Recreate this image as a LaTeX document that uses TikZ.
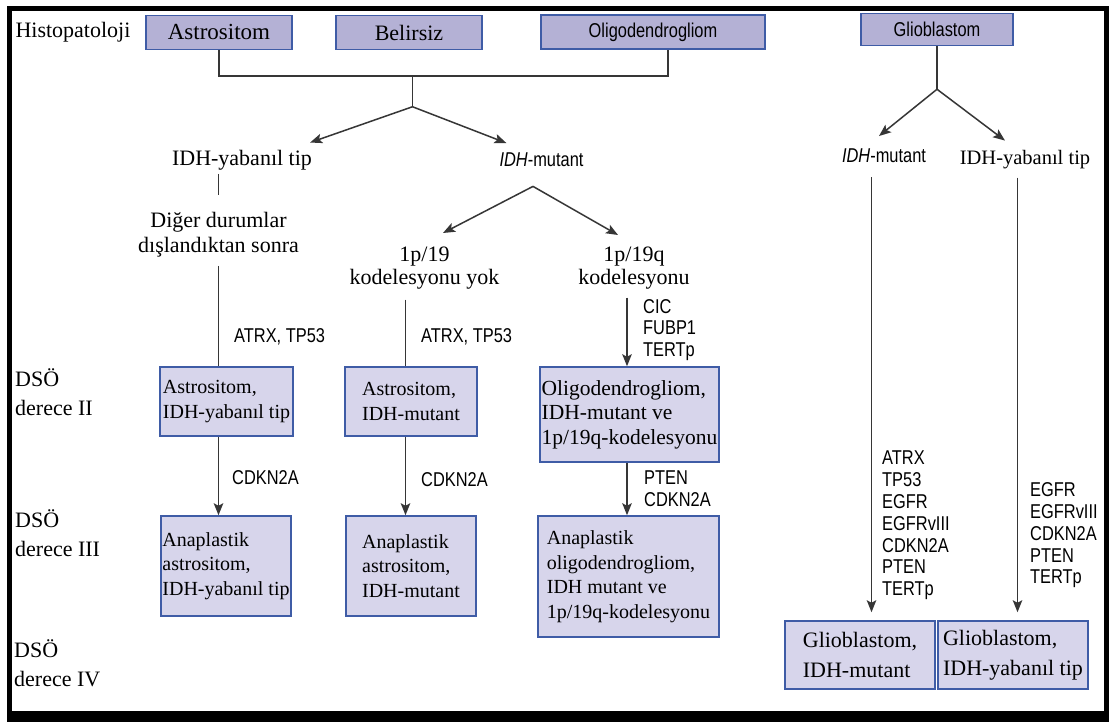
\documentclass[tikz,border=0pt]{standalone}
\usepackage{fontspec}
\setmainfont{Liberation Serif}
\newfontfamily\genefont[FakeStretch=0.82]{Liberation Sans}
\usetikzlibrary{arrows.meta,calc}
\definecolor{boxedge}{HTML}{3F5CA6}
\definecolor{headfill}{HTML}{B4B1D5}
\definecolor{gradefill}{HTML}{D7D5EB}
\definecolor{linkgray}{HTML}{363636}

\begin{document}
\begin{tikzpicture}[x=1pt,y=-1pt,
    word/.style={inner sep=0pt,font=\fontsize{22}{24}\selectfont},
    grade/.style={inner sep=0pt,align=left,font=\fontsize{22}{29}\selectfont},
    gene/.style={inner sep=0pt,align=left,font=\genefont\fontsize{20}{21.8}\selectfont},
    headbox/.style={draw=boxedge,fill=headfill,line width=1.5pt,inner sep=0pt,minimum height=34pt,font=\fontsize{22}{24}\selectfont},
    gradebox/.style={draw=boxedge,fill=gradefill,line width=1.5pt,inner sep=0pt,align=left,font=\fontsize{20}{24.5}\selectfont},
    link/.style={draw=linkgray,line width=1.5pt},
    arr/.style={link,-{Stealth[length=12pt,width=9.5pt,inset=2.5pt]}}]
    \useasboundingbox (0,0) rectangle (1109,722);
    \fill[white] (0,0) rectangle (1109,722);
    \fill[black] (7,6) rectangle (1109,722);
    \fill[white] (12,11) rectangle (1104,711);

    \node[word,anchor=base] (histo) at (73,38) {Histopatoloji};
    \node[headbox,minimum width=146pt,font=\fontsize{23}{25}\selectfont] (astro) at (219,32.5) {Astrositom};
    \node[headbox,minimum width=146pt] (belir) at (409,32.5) {Belirsiz};
    \node[headbox,minimum width=224pt,font=\genefont\fontsize{20}{22}\selectfont] (oligo) at (653,32) {Oligodendrogliom};
    \node[headbox,minimum width=152pt,minimum height=32pt,font=\genefont\fontsize{20}{22}\selectfont] (gliob) at (937,29.5) {Glioblastom};

    \node[word,anchor=base] (wildA) at (242,166) {IDH-yabanıl tip};
    \node[gene,anchor=base] (mutA) at (541.5,167) {\textit{IDH}-mutant};
    \node[gene,anchor=base] (mutG) at (884,163) {\textit{IDH}-mutant};
    \node[word,anchor=base,font=\fontsize{20.5}{24}\selectfont] (wildG) at (1025,165) {IDH-yabanıl tip};
    \node[word,align=center,anchor=north,font=\fontsize{22}{25}\selectfont] (otherA) at (218.5,212) {Diğer durumlar\\dışlandıktan sonra};
    \node[word,align=center,anchor=north,font=\fontsize{22}{23}\selectfont] (nocodel) at (424.5,247) {1p/19\\kodelesyonu yok};
    \node[word,align=center,anchor=north,font=\fontsize{22}{23}\selectfont] (codel) at (634,247) {1p/19q\\kodelesyonu};

    \node[grade,anchor=north west] (dsoII) at (15,368) {DSÖ\\derece II};
    \node[grade,anchor=north west] (dsoIII) at (15,509) {DSÖ\\derece III};
    \node[grade,anchor=north west] (dsoIV) at (14,639) {DSÖ\\derece IV};

    \node[gene,anchor=base west] (geneA1) at (234,342) {ATRX, TP53};
    \node[gene,anchor=base west] (geneB1) at (421,342) {ATRX, TP53};
    \node[gene,anchor=north west] (geneC1) at (643,299) {CIC\\FUBP1\\TERTp};
    \node[gene,anchor=base west] (geneA2) at (232,484) {CDKN2A};
    \node[gene,anchor=base west] (geneB2) at (421,486) {CDKN2A};
    \node[gene,anchor=north west] (geneC2) at (644,471) {PTEN\\CDKN2A};
    \node[gene,anchor=north west] (geneG1) at (882,451) {ATRX\\TP53\\EGFR\\EGFRvIII\\CDKN2A\\PTEN\\TERTp};
    \node[gene,anchor=north west] (geneG2) at (1030,482.5) {EGFR\\EGFRvIII\\CDKN2A\\PTEN\\TERTp};

    \node[gradebox,minimum width=133pt,minimum height=69pt] (astroWT) at (226.5,401.5) {Astrositom,\\IDH-yabanıl tip};
    \node[gradebox,minimum width=132pt,minimum height=69pt] (astroMut) at (411,401.5) {Astrositom,\\IDH-mutant};
    \node[gradebox,minimum width=179pt,minimum height=95pt,font=\fontsize{21.5}{24.5}\selectfont] (oligoCod) at (629.5,414.5) {Oligodendrogliom,\\IDH-mutant ve\\1p/19q-kodelesyonu};
    \node[gradebox,minimum width=130pt,minimum height=100pt] (anaAstroWT) at (226,566) {Anaplastik\\astrositom,\\IDH-yabanıl tip};
    \node[gradebox,minimum width=130pt,minimum height=100pt] (anaAstroMut) at (411,566) {Anaplastik\\astrositom,\\IDH-mutant};
    \node[gradebox,minimum width=181pt,minimum height=121pt] (anaOligo) at (628.5,576.5) {Anaplastik\\oligodendrogliom,\\IDH mutant ve\\1p/19q-kodelesyonu};
    \node[gradebox,minimum width=150pt,minimum height=68pt,font=\fontsize{22}{30}\selectfont] (gbmMut) at (860,655) {Glioblastom,\\IDH-mutant};
    \node[gradebox,minimum width=150pt,minimum height=68pt,font=\fontsize{22}{30}\selectfont] (gbmWT) at (1013,655) {Glioblastom,\\IDH-yabanıl tip};

    \coordinate (join) at ($(belir.south)+(3.5,26)$);
    \coordinate (forkA) at ($(join)+(0,30.5)$);
    \draw[link] (astro.south) |- (join) -| ($(oligo.south)+(15,0)$);
    \draw[link] (join) -- (forkA);
    \draw[arr] (forkA) -- ($(wildA.north east)+(-2,-8)$);
    \draw[arr] (forkA) -- ($(mutA.north west)+(7,-10)$);

    \coordinate (forkB) at ($(mutA.south)+(-8.5,19)$);
    \draw[arr] (forkB) -- ($(nocodel.north)+(18.5,-14)$);
    \draw[arr] (forkB) -- ($(codel.north)+(-16,-12)$);

    \draw[link] (wildA.south -| otherA.north) ++(0,3) -- ($(otherA.north)+(0,-17)$);
    \coordinate (colA) at ($(otherA.south)+(0,8.5)$);
    \draw[link] (colA) -- (colA |- astroWT.north);
    \draw[arr] (colA |- astroWT.south) -- (colA |- anaAstroWT.north);

    \coordinate (colB) at ($(nocodel.south)+(-19,10)$);
    \draw[link] (colB) -- (colB |- astroMut.north);
    \draw[arr] (colB |- astroMut.south) -- (colB |- anaAstroMut.north);

    \coordinate (colC) at ($(codel.south)+(-7,8)$);
    \draw[arr] (colC) -- (colC |- oligoCod.north);
    \draw[arr] (colC |- oligoCod.south) -- (colC |- anaOligo.north);

    \coordinate (forkC) at ($(gliob.south)+(0,43)$);
    \draw[link] (gliob.south) -- (forkC);
    \draw[arr] (forkC) -- ($(mutG.north)+(-5,-13)$);
    \draw[arr] (forkC) -- ($(wildG.north)+(-20,-10)$);
    \draw[arr] ($(mutG.south)+(-12.5,14)$) -- ($(gbmMut.north)+(11.5,-8)$);
    \draw[arr] ($(wildG.south)+(-7.5,8)$) -- ($(gbmWT.north)+(4.5,-8)$);
\end{tikzpicture}
\end{document}
